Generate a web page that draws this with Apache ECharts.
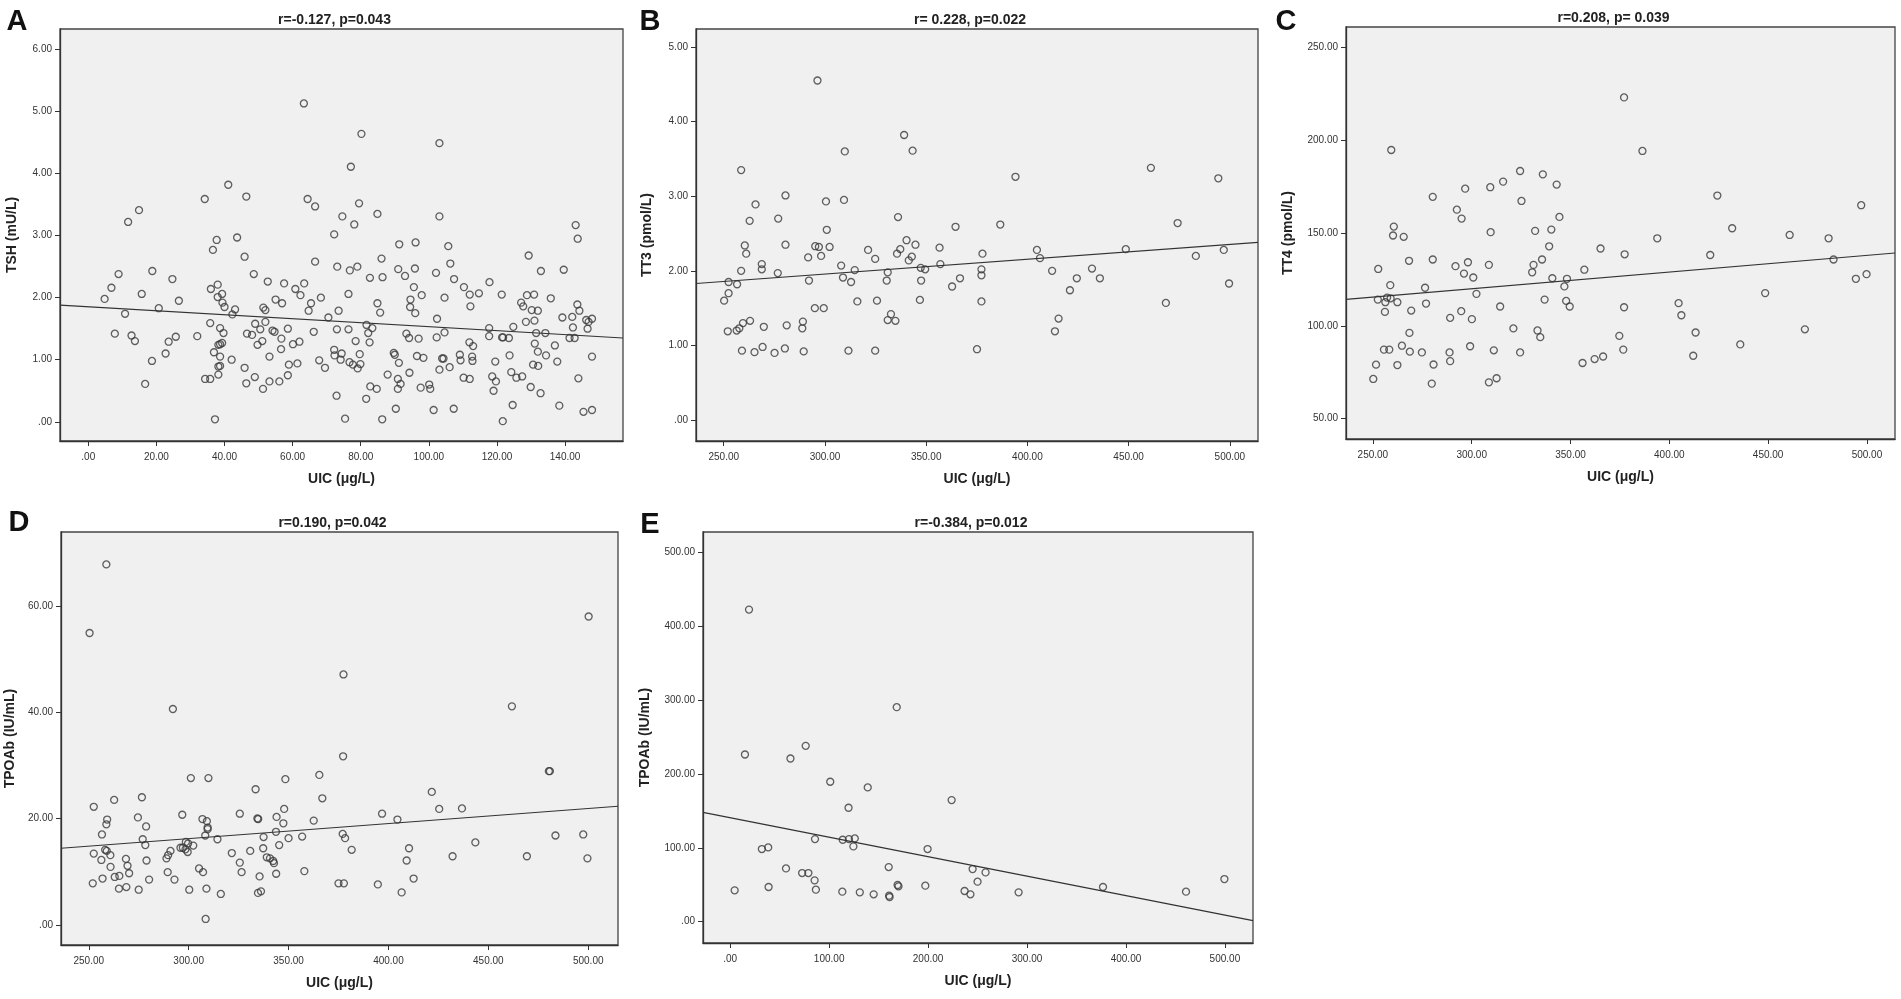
<!DOCTYPE html>
<html>
<head>
<meta charset="utf-8">
<title>UIC vs thyroid function</title>
<script src="https://cdn.jsdelivr.net/npm/echarts@6/dist/echarts.min.js"></script>
<style>
  html, body { margin: 0; padding: 0; background: #fff; }
  #main { width: 1901px; height: 999px; }
</style>
</head>
<body>
<div id="main"></div>
<script>
// ---- data: [UIC, value] pairs ----
const tshPoints = [
  [63.3,5.13],[80.2,4.64],[103.1,4.49],[77.1,4.11],[41.1,3.82],[46.4,3.63],[34.2,3.59],[64.4,3.59],
  [66.6,3.47],[79.5,3.52],[14.9,3.41],[11.7,3.22],[84.9,3.35],[74.6,3.31],[103.1,3.31],[78.1,3.18],
  [143.1,3.17],[143.7,2.95],[72.2,3.02],[37.7,2.93],[43.7,2.97],[91.3,2.86],[96.1,2.89],[105.7,2.83],
  [4.8,1.98],[6.8,2.16],[8.9,2.38],[7.8,1.42],[10.8,1.74],[12.7,1.39],[13.7,1.30],[15.7,2.06],
  [16.7,0.61],[18.7,0.98],[18.8,2.43],[20.7,1.83],[22.7,1.10],[23.6,1.29],[24.7,2.30],[25.7,1.37],
  [26.6,1.95],[32.0,1.38],[34.3,0.69],[35.8,0.69],[35.8,1.59],[36.0,2.14],[36.6,2.77],[36.9,1.12],
  [37.2,0.04],[38.0,2.21],[38.0,2.01],[38.7,1.51],[38.2,1.24],[38.7,1.25],[39.3,1.27],[38.2,0.76],
  [38.2,0.89],[38.7,0.90],[38.7,1.05],[39.3,2.06],[39.4,1.92],[39.7,1.43],[40.0,1.85],[42.1,1.00],
  [42.3,1.73],[43.1,1.81],[45.9,2.66],[45.9,0.87],[46.4,0.62],[46.6,1.42],[48.1,1.40],[48.6,2.38],
  [48.9,0.72],[49.0,1.58],[49.7,1.24],[50.5,1.49],[51.1,1.30],[51.3,0.53],[51.4,1.84],[52.0,1.80],
  [52.0,1.61],[52.7,2.26],[53.2,1.05],[53.2,0.65],[54.1,1.47],[54.7,1.45],[55.0,1.97],[56.1,0.65],
  [56.6,1.17],[56.7,1.34],[56.9,1.91],[57.5,2.23],[58.6,1.50],[58.6,0.75],[58.9,0.92],[60.1,1.25],
  [60.8,2.14],[61.4,0.94],[62.0,1.29],[62.3,2.04],[63.4,2.23],[64.7,1.79],[65.4,1.91],[66.2,1.45],
  [66.6,2.58],[67.8,0.99],[68.3,2.00],[69.5,0.87],[70.5,1.68],[72.2,1.16],[72.3,1.07],[72.9,0.42],
  [73.1,2.50],[73.0,1.49],[73.5,1.79],[74.1,1.00],[74.4,1.10],[75.4,0.05],[76.4,2.06],[76.4,1.49],
  [76.7,0.96],[76.8,2.44],[77.7,0.92],[78.5,1.30],[79.0,2.50],[79.1,0.86],[79.7,1.09],[79.9,0.93],
  [81.6,0.37],[81.7,1.56],[82.2,1.43],[82.6,1.28],[82.7,2.32],[82.8,0.57],[83.4,1.51],[84.7,0.53],
  [84.9,1.91],[85.7,1.76],[86.3,0.04],[86.1,2.63],[86.4,2.33],[87.9,0.76],[89.7,1.11],[90.0,1.08],
  [90.3,0.21],[90.9,0.69],[91.0,2.46],[91.2,0.95],[91.7,0.61],[90.9,0.53],[93.0,2.35],[93.4,1.42],
  [94.2,1.35],[94.3,0.79],[94.5,1.85],[94.6,1.97],[95.6,2.17],[95.9,2.47],[96.0,1.75],[96.5,1.06],
  [97.0,1.34],[97.9,2.04],[98.4,1.03],[97.6,0.55],[100.1,0.60],[100.4,0.53],[101.4,0.19],[102.1,2.40],
  [102.4,1.66],[102.3,1.36],[103.1,0.84],[103.9,1.02],[104.3,1.02],[104.6,1.44],[104.6,2.00],[106.1,0.88],
  [106.3,2.55],[107.3,0.21],[107.4,2.30],[109.1,1.08],[109.3,0.99],[110.2,0.71],[110.3,2.17],[111.9,1.28],
  [112.0,0.69],[112.0,2.05],[112.2,1.86],[112.7,1.05],[112.8,0.98],[113.0,1.22],[114.7,2.07],[117.7,1.51],
  [117.7,1.38],[117.8,2.25],[118.6,0.73],[119.0,0.50],[119.5,0.97],[119.7,0.65],[121.4,2.05],[121.5,1.36],
  [121.8,1.36],[121.7,0.01],[123.5,1.35],[123.7,1.07],[124.2,0.80],[124.6,0.27],[124.8,1.53],[125.7,0.71],
  [127.1,1.92],[127.4,0.73],[127.7,1.86],[128.8,2.04],[128.5,1.61],[129.3,2.68],[129.9,0.56],[130.2,1.80],
  [130.6,0.92],[130.9,2.05],[131.0,1.63],[131.1,1.26],[131.5,1.43],[132.0,1.79],[132.0,1.13],[132.1,0.90],
  [132.8,0.46],[132.9,2.43],[134.2,1.43],[134.4,1.07],[135.8,1.99],[137.0,1.23],[137.7,0.97],[139.2,1.68],
  [139.6,2.45],[138.3,0.26],[141.3,1.35],[142.1,1.69],[142.3,1.52],[142.8,1.35],[143.6,1.89],[143.9,0.70],
  [144.2,1.79],[145.4,0.16],[146.2,1.64],[146.6,1.50],[146.9,1.61],[147.9,1.66],[147.9,1.05],[147.9,0.19]
];
const tt3Points = [
  [296.3,4.55],[339.1,3.82],[343.3,3.61],[309.8,3.60],[258.6,3.35],[461.0,3.38],[494.3,3.24],[394.1,3.26],
  [280.5,3.01],[265.7,2.89],[300.5,2.93],[309.4,2.95],[262.8,2.67],[276.9,2.70],[336.1,2.72],[300.9,2.55],
  [364.5,2.59],[386.6,2.62],[474.2,2.64],[260.4,2.34],[280.5,2.35],[295.2,2.33],[297.0,2.32],[302.3,2.32],
  [321.3,2.28],[337.2,2.29],[340.3,2.41],[344.7,2.35],[356.6,2.31],[404.7,2.28],[448.6,2.29],[497.0,2.28],
  [261.1,2.23],[291.7,2.18],[298.1,2.20],[324.8,2.16],[335.6,2.23],[341.4,2.14],[342.9,2.19],[357.0,2.09],
  [377.8,2.23],[406.2,2.17],[483.2,2.20],[268.8,2.09],[268.8,2.02],[258.6,2.00],[276.7,1.97],[252.4,1.85],
  [256.6,1.82],[250.2,1.60],[252.4,1.70],[292.1,1.87],[308.0,2.07],[308.9,1.91],[312.9,1.85],[314.7,2.01],
  [316.0,1.59],[325.7,1.60],[331.0,1.98],[330.5,1.87],[347.3,2.04],[349.5,2.02],[347.5,1.87],[346.9,1.61],
  [362.8,1.79],[366.7,1.90],[377.3,2.02],[377.3,1.94],[377.3,1.59],[412.2,2.00],[421.0,1.74],[424.4,1.90],
  [431.9,2.03],[435.8,1.90],[468.4,1.57],[499.6,1.83],[295.0,1.50],[299.4,1.50],[332.6,1.42],[331.0,1.34],
  [334.8,1.33],[415.4,1.36],[413.6,1.19],[252.0,1.19],[256.4,1.20],[257.7,1.23],[259.5,1.30],[263.0,1.33],
  [269.8,1.25],[281.1,1.27],[289.1,1.32],[288.8,1.23],[259.0,0.93],[265.2,0.91],[269.2,0.98],[275.1,0.90],
  [280.2,0.96],[289.5,0.92],[311.6,0.93],[324.8,0.93],[375.1,0.95]
];
const tt4Points = [
  [377.1,222.9],[259.3,194.6],[386.4,194.1],[324.5,183.3],[336.0,181.5],[315.9,177.6],[309.4,174.6],[296.7,173.8],
  [343.0,176.0],[280.3,169.4],[424.3,170.1],[497.1,164.9],[325.2,167.2],[292.5,162.5],[294.9,157.7],[344.4,158.6],
  [340.3,151.8],[332.1,151.1],[309.6,150.4],[260.6,153.4],[260.2,148.6],[265.6,147.9],[431.8,152.5],[393.9,147.1],
  [460.9,148.9],[480.6,147.1],[339.2,142.8],[365.2,141.6],[377.4,138.5],[420.7,138.1],[483.1,135.7],[268.3,135.0],
  [280.3,135.7],[291.8,132.1],[298.1,134.2],[308.7,132.8],[331.3,132.8],[335.6,135.7],[252.7,130.6],[330.6,128.8],
  [296.1,128.1],[300.8,126.0],[357.0,130.2],[340.8,125.6],[348.2,125.3],[494.4,125.3],[499.8,127.8],[258.8,121.9],
  [276.4,120.5],[346.9,121.2],[302.4,117.2],[448.5,117.6],[252.5,114.1],[257.2,115.2],[259.0,114.8],[262.4,112.7],
  [256.3,112.7],[336.9,114.1],[347.8,113.4],[276.9,112.0],[349.6,110.4],[377.1,110.0],[404.7,112.2],[406.1,105.7],
  [314.4,110.4],[256.1,107.5],[269.4,108.2],[294.7,107.9],[289.1,104.3],[300.1,103.6],[321.1,98.6],[333.3,97.5],
  [334.7,93.9],[268.5,96.2],[413.3,96.4],[468.6,98.1],[374.7,94.6],[435.9,90.0],[264.7,89.3],[255.6,87.2],
  [258.3,87.2],[268.7,86.1],[274.8,85.7],[288.8,85.7],[299.2,89.0],[311.2,86.8],[324.5,85.7],[376.7,87.2],
  [412.1,83.9],[366.5,83.5],[362.2,82.1],[356.1,80.0],[251.6,79.1],[262.4,78.9],[280.7,79.2],[289.1,81.0],
  [250.2,71.4],[279.8,68.9],[308.7,69.6],[312.6,71.8]
];
const tpoPoints = [
  [258.8,67.8],[250.4,54.9],[500.2,58.0],[377.5,47.1],[292.1,40.6],[461.8,41.1],[377.3,31.7],[301.1,27.6],
  [309.9,27.6],[348.4,27.4],[365.4,28.2],[480.3,28.9],[480.8,28.9],[333.5,25.5],[421.7,25.0],[276.6,24.0],
  [262.7,23.5],[366.9,23.8],[252.5,22.2],[347.8,21.8],[425.4,21.8],[436.8,21.9],[325.6,20.9],[396.8,20.9],
  [296.8,20.7],[274.6,20.2],[334.4,20.0],[334.8,19.9],[344.0,20.3],[306.9,19.9],[309.1,19.5],[404.5,19.8],
  [362.6,19.6],[259.2,19.8],[258.8,18.9],[347.4,19.1],[309.5,18.3],[309.5,18.0],[278.7,18.5],[343.7,17.5],
  [256.6,17.0],[308.3,16.8],[377.1,17.1],[378.3,16.3],[337.5,16.5],[356.8,16.6],[350.0,16.3],[483.6,16.8],
  [497.5,17.0],[277.0,16.1],[314.4,16.1],[443.5,15.5],[278.3,15.0],[298.6,15.6],[299.7,15.3],[302.3,14.9],
  [295.9,14.5],[297.1,14.5],[298.4,14.2],[345.3,15.0],[381.6,14.1],[410.3,14.4],[258.2,14.1],[259.0,13.9],
  [252.5,13.4],[260.8,13.1],[256.3,12.2],[299.5,13.7],[290.9,13.9],[289.7,13.1],[288.9,12.5],[321.6,13.5],
  [330.8,13.9],[337.3,14.4],[339.1,12.7],[340.7,12.5],[342.3,12.0],[342.7,11.6],[268.6,12.4],[278.9,12.1],
  [325.6,11.7],[432.1,12.9],[469.3,12.9],[499.6,12.5],[409.1,12.1],[260.9,10.9],[269.4,11.1],[305.2,10.6],
  [307.2,9.9],[270.2,9.7],[289.5,9.9],[326.5,9.9],[343.8,9.6],[357.9,10.1],[265.3,9.2],[263.0,9.0],
  [256.9,8.7],[252.0,7.8],[280.2,8.5],[292.9,8.5],[335.5,9.1],[375.0,7.8],[377.7,7.8],[394.7,7.6],
  [412.6,8.7],[265.1,6.8],[268.8,7.1],[275.0,6.6],[300.3,6.6],[308.9,6.8],[316.1,5.8],[334.7,6.0],
  [336.2,6.3],[406.6,6.1],[308.5,1.1]
];
const tpoLowPoints = [
  [19.0,422.5],[168.3,290.4],[76.3,238.0],[14.9,226.3],[60.9,220.9],[101.1,189.4],[139.0,181.7],[223.8,164.6],
  [119.6,154.2],[85.7,111.8],[113.7,110.9],[120.0,111.8],[125.9,112.7],[124.5,101.9],[32.0,98.3],[38.4,100.5],
  [199.5,98.3],[56.4,72.1],[72.7,65.8],[79.0,65.8],[160.2,73.9],[245.0,71.2],[258.1,66.7],[85.3,55.9],
  [250.0,54.1],[499.5,57.7],[4.5,42.4],[38.8,46.9],[86.6,43.3],[113.3,40.6],[131.0,39.7],[145.0,37.0],
  [160.6,35.2],[161.1,33.4],[169.2,49.6],[170.1,47.8],[197.2,48.7],[236.9,41.5],[242.8,37.0],[291.5,39.7],
  [376.8,46.9],[460.7,40.6]
];

// fitted regression lines, as drawn (ends at the plot edges)
const tshFit = [[-8.3, 1.88], [157.0, 1.35]];
const tt3Fit = [[236.3, 1.83], [513.9, 2.38]];
const tt4Fit = [[236.4, 114.2], [514.2, 139.2]];
const tpoFit = [[236.1, 14.4], [514.9, 22.3]];
const tpoLowFit = [[-27.5, 147.9], [528.4, 1.4]];

// tick values
const xTicksA = [0, 20, 40, 60, 80, 100, 120, 140];
const xTicksHigh = [250, 300, 350, 400, 450, 500];
const xTicksE = [0, 100, 200, 300, 400, 500];
const yTicksTsh = [0, 1, 2, 3, 4, 5, 6];
const yTicksTt3 = [0, 1, 2, 3, 4, 5];
const yTicksTt4 = [50, 100, 150, 200, 250];
const yTicksTpo = [0, 20, 40, 60];
const yTicksTpoLow = [0, 100, 200, 300, 400, 500];

const letters = ['A', 'B', 'C', 'D', 'E'];
const statTexts = ['r=-0.127, p=0.043', 'r= 0.228, p=0.022', 'r=0.208, p= 0.039', 'r=0.190, p=0.042', 'r=-0.384, p=0.012'];
const yNames = ['TSH (mU/L)', 'TT3 (pmol/L)', 'TT4 (pmol/L)', 'TPOAb (IU/mL)', 'TPOAb (IU/mL)'];
const xName = 'UIC (\u03bcg/L)';

// ---- layout ----
const panels = [
  { pts: tshPoints, fit: tshFit, xt: xTicksA, yt: yTicksTsh, xr: [-8.3, 157.0], yr: [-0.31, 6.33],
    grid: { left: 60, top: 29, width: 563, height: 412 }, nameGap: 41, letterX: 12, letterY: 2 },
  { pts: tt3Points, fit: tt3Fit, xt: xTicksHigh, yt: yTicksTt3, xr: [236.3, 513.9], yr: [-0.28, 5.24],
    grid: { left: 696, top: 29, width: 562, height: 412 }, nameGap: 42, letterX: 645, letterY: 2 },
  { pts: tt4Points, fit: tt4Fit, xt: xTicksHigh, yt: yTicksTt4, xr: [236.4, 514.2], yr: [39.1, 260.8],
    grid: { left: 1346, top: 27, width: 549, height: 412 }, nameGap: 51, letterX: 1281, letterY: 2 },
  { pts: tpoPoints, fit: tpoFit, xt: xTicksHigh, yt: yTicksTpo, xr: [236.1, 514.9], yr: [-3.8, 73.9],
    grid: { left: 61, top: 532, width: 557, height: 413 }, nameGap: 44, letterX: 14, letterY: 503 },
  { pts: tpoLowPoints, fit: tpoLowFit, xt: xTicksE, yt: yTicksTpoLow, xr: [-27.5, 528.4], yr: [-28.9, 527.5],
    grid: { left: 703, top: 532, width: 550, height: 411 }, nameGap: 51, letterX: 645, letterY: 505 }
];

const fmt2 = function (v) {
  return v === 0 ? '.00' : v.toFixed(2);
};
const font = 'Liberation Sans, Arial, sans-serif';
const ink = '#333';

let grids = [], xAxes = [], yAxes = [], series = [], titles = [];
panels.forEach(function (p, i) {
  grids.push(Object.assign({
    show: true, backgroundColor: '#f0f0f0', borderColor: '#444', borderWidth: 1.3
  }, p.grid));
  xAxes.push({
    gridIndex: i, type: 'value', min: p.xr[0], max: p.xr[1],
    axisLine: { onZero: false, lineStyle: { color: ink, width: 1.3 } },
    axisTick: { length: 5, customValues: p.xt, lineStyle: { color: ink } },
    axisLabel: { customValues: p.xt, formatter: fmt2, fontSize: 10, color: ink, margin: 11, fontFamily: font },
    splitLine: { show: false },
    name: xName, nameLocation: 'middle', nameGap: 31,
    nameTextStyle: { fontWeight: 'bold', fontSize: 14, color: '#222', fontFamily: font }
  });
  yAxes.push({
    gridIndex: i, type: 'value', min: p.yr[0], max: p.yr[1],
    axisLine: { onZero: false, lineStyle: { color: ink, width: 1.3 } },
    axisTick: { length: 5, customValues: p.yt, lineStyle: { color: ink } },
    axisLabel: { customValues: p.yt, formatter: fmt2, fontSize: 10, color: ink, margin: 8, fontFamily: font },
    splitLine: { show: false },
    name: yNames[i], nameLocation: 'middle', nameRotate: 90, nameGap: p.nameGap,
    nameTextStyle: { fontWeight: 'bold', fontSize: 14, color: '#222', fontFamily: font }
  });
  series.push({
    type: 'scatter', xAxisIndex: i, yAxisIndex: i, data: p.pts,
    symbol: 'circle', symbolSize: 7, silent: true,
    itemStyle: { color: 'rgba(0,0,0,0)', borderColor: '#3a3a3a', borderWidth: 1.3 }
  });
  series.push({
    type: 'line', xAxisIndex: i, yAxisIndex: i, data: p.fit,
    showSymbol: false, silent: true,
    lineStyle: { color: '#333', width: 1.2 }
  });
  // panel letter
  titles.push({
    text: letters[i], left: p.letterX, top: p.letterY, textAlign: 'center',
    textStyle: { fontSize: 29, fontWeight: 'bold', color: '#111', fontFamily: font }
  });
  // correlation statistics
  titles.push({
    text: statTexts[i], left: p.grid.left + p.grid.width / 2 - 12, top: p.grid.top - 21, textAlign: 'center',
    textStyle: { fontSize: 14, fontWeight: 'bold', color: '#222', fontFamily: font }
  });
});

let myChart = echarts.init(document.getElementById('main'));
myChart.setOption({
  animation: false,
  backgroundColor: '#fff',
  title: titles,
  grid: grids,
  xAxis: xAxes,
  yAxis: yAxes,
  series: series
});
</script>
</body>
</html>
